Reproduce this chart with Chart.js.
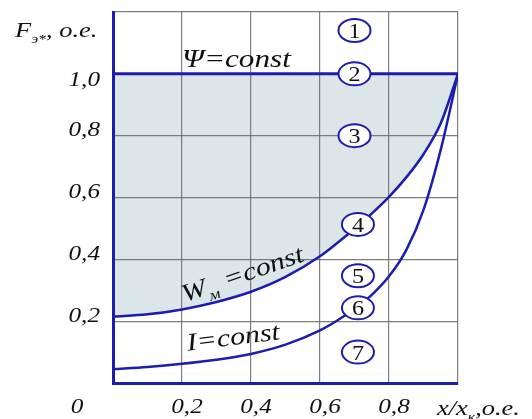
<!DOCTYPE html>
<html><head><meta charset="utf-8">
<script src="https://cdn.jsdelivr.net/npm/chart.js@4/dist/chart.umd.min.js"></script>
<style>html,body{margin:0;padding:0;background:#fff}canvas{display:block}</style>
</head><body>
<canvas id="c" width="532" height="419"></canvas>
<script>
// Relative reactance x/x_k and the excitation MMF curves F_э* (o.e.)
const relX = [0, 0.1, 0.2, 0.3, 0.4, 0.5, 0.6, 0.65, 0.7, 0.75, 0.8, 0.85, 0.9, 0.95, 1.0];
const fluxConstX = [0, 1.0];
const fluxConst = [1.0, 1.0];                     // Ψ = const
const windingConst = [0.215, 0.222, 0.238, 0.262, 0.295, 0.343, 0.41, 0.453, 0.499, 0.548, 0.602, 0.665, 0.74, 0.84, 1.0]; // W_м = const
const currentConst = [0.045, 0.052, 0.062, 0.075, 0.094, 0.124, 0.17, 0.202, 0.24, 0.285, 0.345, 0.43, 0.56, 0.755, 1.0]; // I = const

// numbered region markers
const regionX = [0.70, 0.70, 0.70, 0.71, 0.71, 0.71, 0.71];
const regionY = [1.14, 1.0, 0.80, 0.513, 0.347, 0.243, 0.10];
const regionLabels = ['1', '2', '3', '4', '5', '6', '7'];

// tick labels
const xTickValues = [0.2, 0.4, 0.6, 0.8];
const xTickLabels = ['0,2', '0,4', '0,6', '0,8'];
const yTickValues = [0.2, 0.4, 0.6, 0.8, 1.0];
const yTickLabels = ['0,2', '0,4', '0,6', '0,8', '1,0'];

const BLUE = '#1c1cae';
const GRID = 'rgba(105,105,105,0.85)';
const SHADE = '#dae6e8';
const SERIF = '"Liberation Serif", "Times New Roman", serif';
const SX = 1.2;   // horizontal stretch of the lettering

const pts = (xa, ya) => xa.map((x, i) => ({x, y: ya[i]}));

function drawRich(ctx, parts, x, y, o) {
  const size = o.size, subSize = size * 0.6;
  const style = o.style || 'italic';
  const fMain = `${style} ${size}px ${SERIF}`;
  const fSub = `${style} ${subSize}px ${SERIF}`;
  let total = 0;
  const widths = parts.map(([t, sub]) => { ctx.font = sub ? fSub : fMain; const w = ctx.measureText(t).width; total += w; return w; });
  ctx.save();
  ctx.translate(x, y);
  ctx.rotate(o.angle || 0);
  ctx.scale(o.sx || SX, 1);
  ctx.fillStyle = o.color || '#111';
  ctx.textBaseline = 'alphabetic';
  ctx.textAlign = 'left';
  let cx = o.align === 'center' ? -total / 2 : o.align === 'right' ? -total : 0;
  parts.forEach(([t, sub], i) => {
    ctx.font = sub ? fSub : fMain;
    ctx.fillText(t, cx, sub ? size * 0.28 : 0);
    cx += widths[i];
  });
  ctx.restore();
}

const lettering = {
  id: 'lettering',
  afterDatasetsDraw(chart) {
    const ctx = chart.ctx;
    // region markers
    const meta = chart.getDatasetMeta(3);
    meta.data.forEach((el, i) => {
      ctx.save();
      ctx.beginPath();
      ctx.ellipse(el.x, el.y, 16, 11.5, 0, 0, Math.PI * 2);
      ctx.fillStyle = '#fff';
      ctx.fill();
      ctx.lineWidth = 2;
      ctx.strokeStyle = BLUE;
      ctx.stroke();
      ctx.restore();
      drawRich(ctx, [[regionLabels[i]]], el.x, el.y + 7.5, {size: 22, style: 'normal', align: 'center', sx: 1.1});
    });
  },
  afterDraw(chart) {
    const ctx = chart.ctx, xs = chart.scales.x, ys = chart.scales.y;
    const left = chart.chartArea.left, bottom = chart.chartArea.bottom;
    yTickValues.forEach((v, i) => {
      const dy = v === 1 ? 12 : 0.5;
      drawRich(ctx, [[yTickLabels[i]]], left - 13, ys.getPixelForValue(v) + dy, {size: 21, align: 'right'});
    });
    xTickValues.forEach((v, i) => {
      drawRich(ctx, [[xTickLabels[i]]], xs.getPixelForValue(v) + 5, bottom + 30, {size: 21, align: 'center'});
    });
    drawRich(ctx, [['0']], left - 36, bottom + 30, {size: 21, align: 'center'});
    // axis titles
    drawRich(ctx, [['F'], ['э*', true], [', o.e.']], 15, ys.getPixelForValue(1.2) + 25, {size: 22});
    drawRich(ctx, [['x/x'], ['к', true], [',o.e.']], xs.getPixelForValue(1.0) - 21, bottom + 32, {size: 22});
    // curve captions
    drawRich(ctx, [['Ψ=const']], xs.getPixelForValue(0.2), ys.getPixelForValue(1.0) - 7, {size: 26});
    drawRich(ctx, [['W'], ['м', true], [' =const']], xs.getPixelForValue(0.383), ys.getPixelForValue(0.354) + 8, {size: 25, align: 'center', angle: -19 * Math.PI / 180});
    drawRich(ctx, [['I=const']], xs.getPixelForValue(0.351), ys.getPixelForValue(0.149) + 8, {size: 25, align: 'center', angle: -7 * Math.PI / 180});
  }
};

const gridColor = c => (c.tick && Math.abs(c.tick.value) < 1e-9) ? 'rgba(0,0,0,0)' : GRID;

new Chart(document.getElementById('c'), {
  type: 'scatter',
  data: {
    datasets: [
      {label: 'Ψ=const', data: pts(fluxConstX, fluxConst), showLine: true, borderColor: BLUE, borderWidth: 3, pointRadius: 0, fill: false},
      {label: 'W_м=const', data: pts(relX, windingConst), showLine: true, borderColor: BLUE, borderWidth: 2.5, pointRadius: 0,
        cubicInterpolationMode: 'monotone', fill: {value: 1.0}, backgroundColor: SHADE},
      {label: 'I=const', data: pts(relX, currentConst), showLine: true, borderColor: BLUE, borderWidth: 2.5, pointRadius: 0,
        cubicInterpolationMode: 'monotone', fill: false},
      {label: 'regions', data: pts(regionX, regionY), showLine: false, pointRadius: 0, pointHoverRadius: 0}
    ]
  },
  options: {
    responsive: false,
    animation: false,
    events: [],
    layout: {padding: {left: 113, top: 12, right: 74, bottom: 36}},
    plugins: {legend: {display: false}, tooltip: {enabled: false}, filler: {drawTime: 'beforeDraw'}},
    scales: {
      x: {type: 'linear', min: 0, max: 1, ticks: {stepSize: 0.2, display: false},
          grid: {color: gridColor, lineWidth: 1.2, drawTicks: false}, border: {color: BLUE, width: 3}},
      y: {type: 'linear', min: 0, max: 1.2, ticks: {stepSize: 0.2, display: false},
          grid: {color: gridColor, lineWidth: 1.2, drawTicks: false}, border: {color: BLUE, width: 3}}
    }
  },
  plugins: [lettering]
});
</script>
</body></html>
